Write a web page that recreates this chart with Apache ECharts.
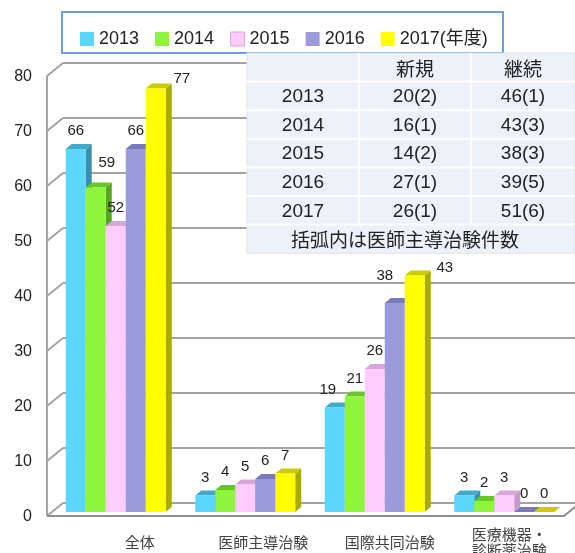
<!DOCTYPE html>
<html>
<head>
<meta charset="utf-8">
<script src="https://cdn.jsdelivr.net/npm/echarts@6/dist/echarts.min.js"></script>
<style>
html, body { margin: 0; padding: 0; background: #fff; }
#main { width: 575px; height: 553px; }
</style>
</head>
<body>
<div id="main"></div>
<script>
// 治験件数（年度別）
const categories = ['全体', '医師主導治験', '国際共同治験', '医療機器・\n診断薬治験'];
const years = ['2013', '2014', '2015', '2016', '2017(年度)'];
const v2013 = [66, 3, 19, 3];
const v2014 = [59, 4, 21, 2];
const v2015 = [52, 5, 26, 3];
const v2016 = [66, 6, 38, 0];
const v2017 = [77, 7, 43, 0];
const yTicks = [0, 10, 20, 30, 40, 50, 60, 70, 80];

// 右上の表
const tableYears = ['2013', '2014', '2015', '2016', '2017'];
const newTotal = [20, 16, 14, 27, 26];
const newDoctor = [2, 1, 2, 1, 1];
const contTotal = [46, 43, 38, 39, 51];
const contDoctor = [1, 3, 3, 5, 6];

const values = [v2013, v2014, v2015, v2016, v2017];

const palette = [
    { front: '#5cd5ff', top: '#42a9cc', side: '#3a8fb0' },
    { front: '#8ff53a', top: '#69c628', side: '#58a520' },
    { front: '#ffccff', top: '#d9a6d9', side: '#c899c8' },
    { front: '#9b9bdc', top: '#7a7abb', side: '#6868a2' },
    { front: '#ffff00', top: '#cccc00', side: '#aaaa00' }
];

const BAR_W = 20;
const DX = 6, DY = 5;
const NUM_FONT = '"Liberation Sans", "Noto Sans CJK JP", sans-serif';
const JP_FONT = '"Noto Sans CJK JP", sans-serif';

// 数値ラベルのずらし（series-category）
const labelNudge = { '0-2': [-7, 0], '1-0': [11, -7], '3-2': [-10, -9], '4-0': [26, 8], '4-2': [30, 10] };
// カテゴリラベルの右ずらし
const catShift = [24, 18, 15, 5];

const myChart = echarts.init(document.getElementById('main'));

function barRenderer(si) {
    return function (params, api) {
        const cat = api.value(0);
        const val = api.value(1);
        const base = api.coord([cat, 0]);
        const top = api.coord([cat, val]);
        const x0 = base[0] - 50 + si * BAR_W;
        const x1 = x0 + BAR_W;
        const y0 = base[1];
        const y1 = top[1];
        const c = palette[si];
        return {
            type: 'group',
            children: [
                { type: 'polygon', shape: { points: [[x1, y1], [x1 + DX, y1 - DY], [x1 + DX, y0 - DY], [x1, y0]] }, style: { fill: c.side } },
                { type: 'polygon', shape: { points: [[x0, y1], [x1, y1], [x1 + DX, y1 - DY], [x0 + DX, y1 - DY]] }, style: { fill: c.top } },
                { type: 'rect', shape: { x: x0, y: y1, width: BAR_W, height: y0 - y1 }, style: { fill: c.front } }
            ]
        };
    };
}

function labelRenderer(params, api) {
    const cat = api.value(0);
    const val = api.value(1);
    const si = api.value(2);
    const base = api.coord([cat, 0]);
    const top = api.coord([cat, val]);
    const nudge = labelNudge[si + '-' + cat] || [0, 0];
    return {
        type: 'text',
        x: base[0] - 50 + si * BAR_W + BAR_W / 2 + nudge[0],
        y: top[1] - 18 + nudge[1],
        style: {
            text: String(val),
            font: '15px ' + NUM_FONT,
            fill: '#222',
            align: 'center',
            verticalAlign: 'middle'
        }
    };
}

function frameRenderer(params, api) {
    const cs = params.coordSys;
    const gx = cs.x, gw = cs.width;
    const lineStyle = { stroke: '#a3a3a3', lineWidth: 2, fill: null };
    const children = [];
    const yTop = api.coord([0, yTicks[yTicks.length - 1]])[1];
    const y0 = api.coord([0, 0])[1];
    children.push({ type: 'line', shape: { x1: gx - 4, y1: yTop + 4, x2: gx - 4, y2: y0 + 4 }, style: lineStyle });
    yTicks.forEach(function (v) {
        const y = api.coord([0, v])[1];
        children.push({ type: 'line', shape: { x1: gx - 4, y1: y + 4, x2: gx + 12, y2: y - 9 }, style: lineStyle });
        children.push({ type: 'line', shape: { x1: gx + 12, y1: y - 9, x2: gx + gw + 11, y2: y - 9 }, style: lineStyle });
    });
    children.push({
        type: 'polyline',
        shape: { points: [[gx - 4, y0 + 4], [gx + gw - 5, y0 + 4], [gx + gw + 11, y0 - 9]] },
        style: { stroke: '#8e8e8e', lineWidth: 2, fill: null }
    });
    return { type: 'group', children: children };
}

// 表
const tX = 247, tY = 53, tW = 328, rowH = 28.6;
const colX = [247, 359, 471, 575];
const tableEls = [];
tableEls.push({ type: 'rect', z: 100, shape: { x: tX, y: tY, width: tW, height: rowH * 7 }, style: { fill: '#edf1f8', stroke: '#dfe3ea', lineWidth: 1 } });
for (let r = 1; r < 7; r++) {
    tableEls.push({ type: 'line', z: 101, shape: { x1: tX, y1: tY + r * rowH, x2: tX + tW, y2: tY + r * rowH }, style: { stroke: '#fff', lineWidth: 2 } });
}
for (let c = 1; c < 3; c++) {
    tableEls.push({ type: 'line', z: 101, shape: { x1: colX[c], y1: tY, x2: colX[c], y2: tY + rowH * 6 }, style: { stroke: '#fff', lineWidth: 2 } });
}
function cellText(text, col, row, font) {
    return {
        type: 'text',
        z: 102,
        x: (colX[col] + colX[col + 1]) / 2,
        y: tY + rowH * row + rowH / 2 + 1,
        style: { text: text, font: font, fill: '#222', align: 'center', verticalAlign: 'middle' }
    };
}
tableEls.push(cellText('新規', 1, 0, '19px ' + JP_FONT));
tableEls.push(cellText('継続', 2, 0, '19px ' + JP_FONT));
tableYears.forEach(function (y, i) {
    tableEls.push(cellText(y, 0, i + 1, '19px ' + NUM_FONT));
    tableEls.push(cellText(newTotal[i] + '(' + newDoctor[i] + ')', 1, i + 1, '19px ' + NUM_FONT));
    tableEls.push(cellText(contTotal[i] + '(' + contDoctor[i] + ')', 2, i + 1, '19px ' + NUM_FONT));
});
tableEls.push({
    type: 'text',
    z: 102,
    x: (tX + tX + tW) / 2 - 6,
    y: tY + rowH * 6 + rowH / 2 + 1,
    style: { text: '括弧内は医師主導治験件数', font: '19px ' + JP_FONT, fill: '#222', align: 'center', verticalAlign: 'middle' }
});

const series = [{
    type: 'custom',
    name: 'frame',
    silent: true,
    z: 1,
    renderItem: frameRenderer,
    data: [[0, 0]],
    encode: { x: 0, y: 1 }
}];
years.forEach(function (y, si) {
    series.push({
        type: 'custom',
        name: y,
        z: 2,
        itemStyle: { color: palette[si].front },
        renderItem: barRenderer(si),
        data: categories.map(function (c, ci) { return [ci, values[si][ci]]; }),
        encode: { x: 0, y: 1 }
    });
});
const labelData = [];
values.forEach(function (arr, si) {
    arr.forEach(function (v, ci) { labelData.push([ci, v, si]); });
});
series.push({
    type: 'custom',
    name: 'labels',
    silent: true,
    z: 5,
    renderItem: labelRenderer,
    data: labelData,
    encode: { x: 0, y: 1 }
});

const rich = {};
catShift.forEach(function (s, i) {
    rich['c' + i] = {
        padding: [0, 0, 0, s * 2],
        fontFamily: JP_FONT,
        fontSize: 15,
        color: '#444',
        lineHeight: 16
    };
});

const option = {
    animation: false,
    backgroundColor: '#fff',
    grid: { left: 51, right: 6, top: 72, bottom: 41, containLabel: false, outerBoundsMode: 'none' },
    legend: {
        data: years.map(function (y, i) {
            return i === 2 ? { name: y, itemStyle: { borderColor: '#d9a6d9', borderWidth: 1 } } : y;
        }),
        left: 75,
        top: 25,
        icon: 'rect',
        itemWidth: 14,
        itemHeight: 14,
        itemGap: 16,
        textStyle: { fontFamily: NUM_FONT, fontSize: 18, color: '#222' }
    },
    xAxis: {
        type: 'category',
        data: categories,
        axisLine: { show: false },
        axisTick: { show: false },
        axisLabel: {
            interval: 0,
            margin: 30,
            verticalAlign: 'middle',
            fontSize: 15,
            fontFamily: JP_FONT,
            color: '#444',
            formatter: function (val, idx) {
                return val.split('\n').map(function (s) { return '{c' + idx + '|' + s + '}'; }).join('\n');
            },
            rich: rich
        }
    },
    yAxis: {
        type: 'value',
        min: 0,
        max: 80,
        interval: 10,
        axisLine: { show: false },
        axisTick: { show: false },
        splitLine: { show: false },
        axisLabel: {
            margin: 19,
            verticalAlign: 'top',
            lineHeight: 10,
            fontFamily: NUM_FONT,
            fontSize: 16,
            color: '#222'
        }
    },
    graphic: [
        { type: 'rect', shape: { x: 62, y: 12, width: 441, height: 41 }, style: { fill: null, stroke: '#6f9fd6', lineWidth: 2 }, z: 10 },
        { type: 'group', z: 100, children: tableEls }
    ],
    series: series
};

myChart.setOption(option);
</script>
</body>
</html>
